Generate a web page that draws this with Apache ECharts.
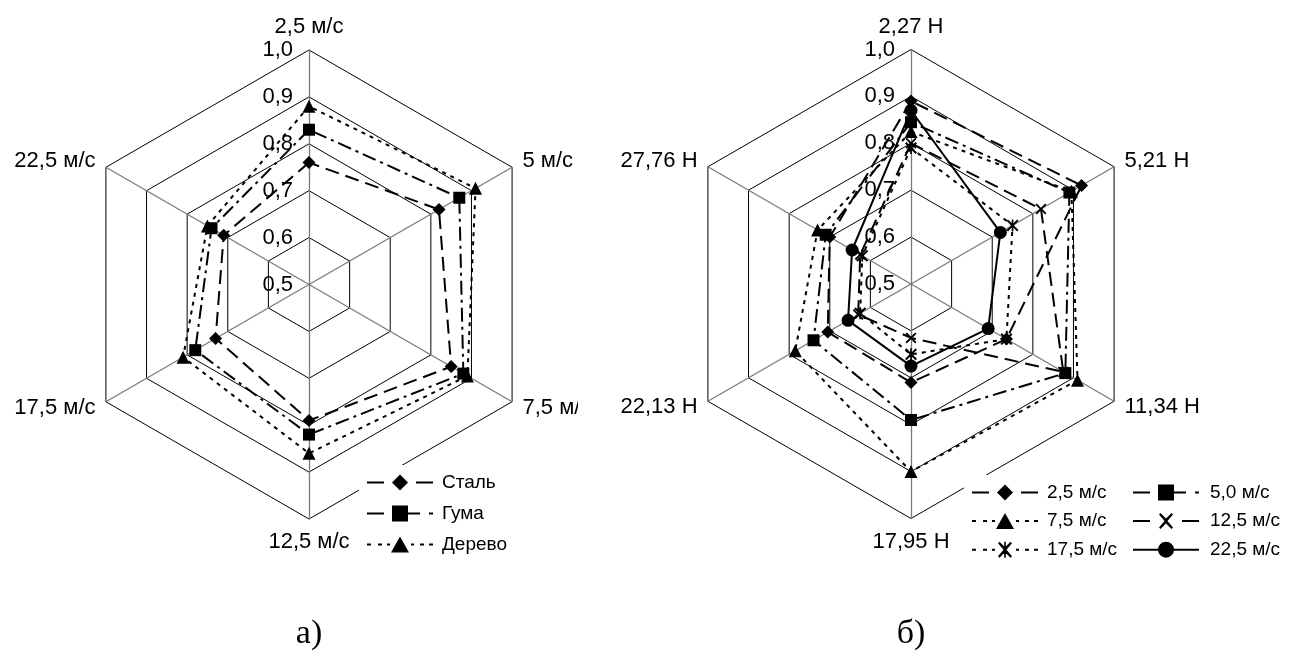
<!DOCTYPE html>
<html>
<head>
<meta charset="utf-8">
<script src="https://cdn.jsdelivr.net/npm/echarts@6/dist/echarts.min.js"></script>
<style>
  html, body { margin: 0; padding: 0; background: #fff; }
  #wrap { position: relative; width: 1294px; height: 660px; overflow: hidden; }
  #chartA { position: absolute; left: 0; top: 0; width: 578px; height: 660px; }
  #chartB { position: absolute; left: 578px; top: 0; width: 716px; height: 660px; }
</style>
</head>
<body>
<div id="wrap"><div id="chartA"></div><div id="chartB"></div></div>
<script>
// Axis names, listed clockwise starting from the top spoke
const speedAxes = ['2,5 м/с', '5 м/с', '7,5 м/с', '12,5 м/с', '17,5 м/с', '22,5 м/с'];
const forceAxes = ['2,27 Н', '5,21 Н', '11,34 Н', '17,95 Н', '22,13 Н', '27,76 Н'];

// Common radial scale
const scaleMin = 0.5;
const scaleMax = 1.0;
const scaleSplits = 5;

// Chart а): one series per material, values in axis order
const materials = ['Сталь', 'Гума', 'Дерево'];
const steelValues  = [0.76, 0.82, 0.85, 0.79, 0.73, 0.71];
const rubberValues = [0.83, 0.87, 0.88, 0.82, 0.78, 0.74];
const woodValues   = [0.88, 0.91, 0.89, 0.86, 0.81, 0.75];

// Chart б): one series per speed, values in axis order
const speeds = ['2,5 м/с', '5,0 м/с', '7,5 м/с', '12,5 м/с', '17,5 м/с', '22,5 м/с'];
const speed25  = [0.89, 0.92, 0.735, 0.71, 0.705, 0.70];
const speed50  = [0.845, 0.89, 0.88, 0.79, 0.74, 0.71];
const speed75  = [0.825, 0.895, 0.91, 0.90, 0.785, 0.73];
const speed125 = [0.80, 0.82, 0.875, 0.615, 0.63, 0.625];
const speed175 = [0.79, 0.75, 0.735, 0.65, 0.625, 0.62];
const speed225 = [0.87, 0.72, 0.69, 0.675, 0.655, 0.645];

const FONT = '"Liberation Sans", Arial, sans-serif';

// ECharts lays radar indicators out counter-clockwise; the lists above run clockwise
function clockwise(arr) {
  return [arr[0], arr[5], arr[4], arr[3], arr[2], arr[1]];
}

// Line dash patterns
const DASH_LONG = [14, 7];
const DASH_DOT = [14, 5, 3, 5];
const DOTTED = [4, 5];

// Point markers
const CROSS = 'path://M0,1.2L1.2,0L5,3.8L8.8,0L10,1.2L6.2,5L10,8.8L8.8,10L5,6.2L1.2,10L0,8.8L3.8,5Z';
const STAR = 'path://M0,1.2L1.2,0L5,3.8L8.8,0L10,1.2L6.2,5L10,8.8L8.8,10L5,6.2L1.2,10L0,8.8L3.8,5Z' +
             'M4.3,0L5.7,0L5.7,10L4.3,10Z';

// Legend samples (66 x 16 units): line pattern with the marker in the middle
const dashL = 'M0,7L17,7L17,9L0,9Z';
const dashR = 'M49,7L66,7L66,9L49,9Z';
const ICON_DIAMOND = 'path://' + dashL + 'M25,8L33,0L41,8L33,16Z' + dashR;
const ICON_SQUARE = 'path://' + dashL + 'M25,0L41,0L41,7L53,7L53,9L41,9L41,16L25,16Z' + 'M62,7L66,7L66,9L62,9Z';
const ICON_TRIANGLE = 'path://M0,7L4,7L4,9L0,9Z M11,7L15,7L15,9L11,9Z M20,7L23,7L23,9L20,9Z' +
  'M33,0L42,16L24,16Z' + 'M44,7L47,7L47,9L44,9Z M53,7L57,7L57,9L53,9Z M62,7L66,7L66,9L62,9Z';
const crossIcon = 'M26,1.5L27.5,0L33,5.5L38.5,0L40,1.5L34.5,8L40,14.5L38.5,16L33,10.5L27.5,16L26,14.5L31.5,8Z';
const ICON_CROSS = 'path://' + dashL + crossIcon + dashR;
const ICON_STAR = 'path://M0,7L4,7L4,9L0,9Z M11,7L15,7L15,9L11,9Z M20,7L23,7L23,9L20,9Z' +
  crossIcon + 'M32.2,0L33.8,0L33.8,16L32.2,16Z' +
  'M44,7L47,7L47,9L44,9Z M53,7L57,7L57,9L53,9Z M62,7L66,7L66,9L62,9Z';
const ICON_CIRCLE = 'path://M0,7L26,7L26,9L0,9Z M40,7L66,7L66,9L40,9Z M25,8A8,8 0 1,1 41,8A8,8 0 1,1 25,8Z';

const RADIUS = 234.5;

function gridRadar(center, names) {
  return {
    center: center,
    radius: RADIUS,
    startAngle: 90,
    shape: 'polygon',
    splitNumber: scaleSplits,
    indicator: clockwise(names).map(n => ({ name: n, min: scaleMin, max: scaleMax })),
    axisName: { color: '#000', fontSize: 22, fontFamily: FONT },
    nameGap: 12,
    splitLine: { lineStyle: { color: '#000', width: 1 } },
    splitArea: { show: false },
    axisLine: { lineStyle: { color: '#7a7a7a', width: 1.3 } },
    axisTick: { show: false },
    axisLabel: { show: false },
    silent: true
  };
}

// A single upward spoke that only carries the scale labels
function labelRadar(center) {
  return {
    center: center,
    radius: RADIUS,
    startAngle: 90,
    shape: 'polygon',
    splitNumber: scaleSplits,
    indicator: [{ name: '', min: scaleMin, max: scaleMax }],
    splitLine: { show: false },
    splitArea: { show: false },
    axisLine: { show: false },
    axisTick: { show: false },
    axisLabel: {
      show: true, color: '#000', fontSize: 22, fontFamily: FONT, margin: 16,
      showMinLabel: true, showMaxLabel: true,
      formatter: v => Number(v).toFixed(1).replace('.', ',')
    },
    silent: true
  };
}

function radarSeries(name, values, dash, symbol, size) {
  return {
    type: 'radar',
    radarIndex: 0,
    name: name,
    symbol: symbol,
    symbolSize: size,
    z: 3,
    lineStyle: { color: '#000', width: 2, type: dash },
    itemStyle: { color: '#000' },
    data: [{ name: name, value: clockwise(values) }]
  };
}

function legendBase(extra) {
  return Object.assign({
    orient: 'vertical',
    itemWidth: 66,
    itemHeight: 16,
    selectedMode: false,
    textStyle: { fontSize: 19, lineHeight: 16, fontFamily: FONT, color: '#000', padding: [0, 0, 0, 4] },
    itemStyle: { borderWidth: 0 }
  }, extra);
}

function caption(x, text) {
  return {
    type: 'text', x: x, y: 634,
    style: { text: text, fontSize: 34, fontFamily: '"Liberation Serif", "Times New Roman", serif',
             fill: '#000', align: 'center', verticalAlign: 'middle' }
  };
}

// ---- Chart а)
const centerA = [309, 284.5];
const chartA = echarts.init(document.getElementById('chartA'), null, { renderer: 'canvas' });
chartA.setOption({
  animation: false,
  backgroundColor: '#fff',
  radar: [gridRadar(centerA, speedAxes), labelRadar(centerA)],
  legend: legendBase({
    left: 359, top: 465, padding: [8, 8, 8, 8], backgroundColor: '#fff', itemGap: 12,
    data: [
      { name: materials[0], icon: ICON_DIAMOND },
      { name: materials[1], icon: ICON_SQUARE },
      { name: materials[2], icon: ICON_TRIANGLE }
    ]
  }),
  series: [
    radarSeries(materials[0], steelValues, DASH_LONG, 'diamond', 13),
    radarSeries(materials[1], rubberValues, DASH_DOT, 'rect', 12),
    radarSeries(materials[2], woodValues, DOTTED, 'triangle', 13)
  ],
  graphic: [caption(centerA[0], 'а)')]
});

// ---- Chart б)
const centerB = [333, 284];
const chartB = echarts.init(document.getElementById('chartB'), null, { renderer: 'canvas' });
chartB.setOption({
  animation: false,
  backgroundColor: '#fff',
  radar: [gridRadar(centerB, forceAxes), labelRadar(centerB)],
  legend: [
    legendBase({
      left: 386, top: 475, padding: [8, 8, 8, 8], backgroundColor: '#fff', itemGap: 9.6,
      data: [
        { name: speeds[0], icon: ICON_DIAMOND },
        { name: speeds[2], icon: ICON_TRIANGLE },
        { name: speeds[4], icon: ICON_STAR }
      ]
    }),
    legendBase({
      left: 547, top: 475, padding: [8, 8, 8, 8], backgroundColor: '#fff', itemGap: 9.6,
      itemWidth: 70,
      data: [
        { name: speeds[1], icon: ICON_SQUARE },
        { name: speeds[3], icon: ICON_CROSS },
        { name: speeds[5], icon: ICON_CIRCLE }
      ]
    })
  ],
  series: [
    radarSeries(speeds[0], speed25, DASH_LONG, 'diamond', 13),
    radarSeries(speeds[1], speed50, DASH_DOT, 'rect', 12),
    radarSeries(speeds[2], speed75, DOTTED, 'triangle', 13),
    radarSeries(speeds[3], speed125, DASH_LONG, CROSS, 11),
    radarSeries(speeds[4], speed175, DOTTED, STAR, 12),
    radarSeries(speeds[5], speed225, 'solid', 'circle', 13)
  ],
  graphic: [caption(centerB[0], 'б)')]
});
</script>
</body>
</html>
